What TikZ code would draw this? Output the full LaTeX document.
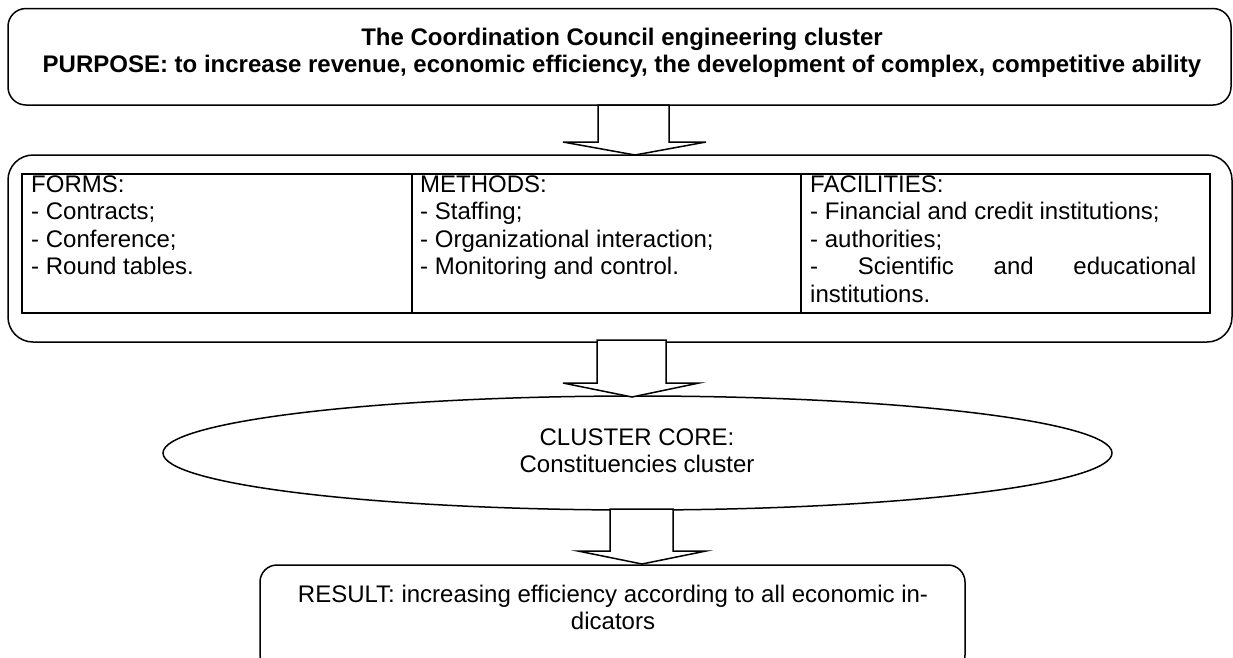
\documentclass[tikz,border=0pt]{standalone}
\usepackage{fontspec}
\setmainfont{Liberation Sans}
\usetikzlibrary{shapes.geometric}
\tikzset{
  box/.style={draw, line width=1.5pt, fill=white, inner sep=0pt},
  cell/.style={draw, line width=1.5pt, inner sep=0pt},
  txt/.style={inner sep=0pt, font=\fontsize{24}{27.6}\selectfont},
  btxt/.style={inner sep=0pt, font=\fontsize{24}{27.6}\selectfont\bfseries},
  barrow/.style={draw, line width=1.5pt, fill=white, line join=miter},
}
\begin{document}
\begin{tikzpicture}[x=1pt,y=-1pt]
\useasboundingbox (0,0) rectangle (1233,657);
\clip (0,0) rectangle (1233,657);

% boxes
\node[box, rounded corners=18pt, minimum width=1223pt, minimum height=96.5pt] (top) at (619.5,56.75) {};
\node[box, rounded corners=25pt, minimum width=1224pt, minimum height=187pt] (mid) at (620,248.5) {};
\node[cell, minimum width=390pt, minimum height=139pt] (forms) at (217,243.5) {};
\node[cell, minimum width=389pt, minimum height=139pt] (methods) at (606.5,243.5) {};
\node[cell, minimum width=409pt, minimum height=139pt] (facil) at (1005.5,243.5) {};
\node[box, ellipse, minimum width=949pt, minimum height=114pt] (core) at (637.5,453) {};
\node[box, rounded corners=17pt, minimum width=705pt, minimum height=107pt] (res) at (612.5,618.5) {};

% block arrows
\draw[barrow] (598,105) -- (598,142) -- (563,142) -- (635,155) -- (706,142) -- (669,142) -- (669,105) -- cycle;
\draw[barrow] (597,340) -- (597,383) -- (563,383) -- (632,397) -- (699,383) -- (666,383) -- (666,340) -- cycle;
\draw[barrow] (610,509) -- (610,551) -- (578,551) -- (642,564) -- (706,551) -- (673,551) -- (673,509) -- cycle;

% title texts
\node[btxt, anchor=base] (t1) at (622,45) {The Coordination Council engineering cluster};
\node[btxt, anchor=base] (t2) at (622,72.6) {PURPOSE: to increase revenue, economic efficiency, the development of complex, competitive ability};

% forms
\node[txt, anchor=base west] (f1) at (31,192) {FORMS:};
\node[txt, anchor=base west] (f2) at (31,219.6) {- Contracts;};
\node[txt, anchor=base west] (f3) at (31,247.2) {- Conference;};
\node[txt, anchor=base west] (f4) at (31,274.8) {- Round tables.};

% methods
\node[txt, anchor=base west] (m1) at (420,192) {METHODS:};
\node[txt, anchor=base west] (m2) at (420,219.6) {- Staffing;};
\node[txt, anchor=base west] (m3) at (420,247.2) {- Organizational interaction;};
\node[txt, anchor=base west] (m4) at (420,274.8) {- Monitoring and control.};

% facilities
\node[txt, anchor=base west] (c1) at (810,192) {FACILITIES:};
\node[txt, anchor=base west] (c2) at (810,219.6) {- Financial and credit institutions;};
\node[txt, anchor=base west] (c3) at (810,247.2) {- authorities;};
\node[txt, anchor=base west] (c4) at (810,274.8) {\hbox to 386pt{-\hfill Scientific\hfill and\hfill educational}};
\node[txt, anchor=base west] (c5) at (810,302.4) {institutions.};

% core
\node[txt, anchor=base] (k1) at (637,445) {CLUSTER CORE:};
\node[txt, anchor=base] (k2) at (637,472.6) {Constituencies cluster};

% result
\node[txt, anchor=base] (r1) at (613,602) {RESULT: increasing efficiency according to all economic in-};
\node[txt, anchor=base] (r2) at (613,629.6) {dicators};
\end{tikzpicture}
\end{document}
